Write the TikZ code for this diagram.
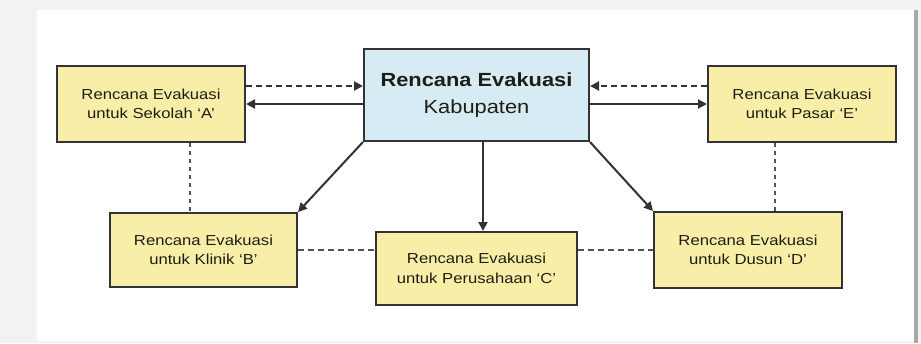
\documentclass[tikz,border=0pt]{standalone}
\usepackage{fontspec}
\setmainfont{Liberation Sans}[FakeStretch=1.15]
\usetikzlibrary{arrows.meta,calc}
\definecolor{bgout}{HTML}{F2F2F2}
\definecolor{shadowc}{HTML}{A8A8A8}
\definecolor{yfill}{HTML}{F8EEA8}
\definecolor{bfill}{HTML}{D7EBF4}
\definecolor{edge}{HTML}{333333}
\definecolor{txt}{HTML}{1E1E14}
\tikzset{
  planbox/.style={draw=edge, line width=2pt, fill=yfill, align=center, text=txt,
    minimum width=188pt, minimum height=76pt, inner sep=0pt,
    font=\fontsize{14.5}{19.5}\selectfont},
  mainbox/.style={draw=edge, line width=2pt, fill=bfill, align=center, text=txt,
    minimum width=225pt, minimum height=92pt, inner sep=0pt,
    font=\fontsize{19}{27}\selectfont},
  conn/.style={draw=edge, line width=2pt, -{Triangle[length=9pt,width=9pt]}},
  dconn/.style={conn, dash pattern=on 6pt off 4pt},
  dotline/.style={draw=edge!85, line width=2pt, dash pattern=on 4pt off 4pt},
  dashline/.style={draw=edge!85, line width=2pt, dash pattern=on 6pt off 4pt}
}
\begin{document}
\begin{tikzpicture}[x=1pt,y=-1pt]
\useasboundingbox (0,0) rectangle (921,343);
\fill[bgout] (0,0) rectangle (921,343);
\fill[white] (37,10) rectangle (914,341);
\fill[shadowc] (914,10) rectangle (918,343);

\node[mainbox] (K) at (476.5,95) {\textbf{Rencana Evakuasi}\\Kabupaten};
\node[planbox] (A) at (151,104) {Rencana Evakuasi\\untuk Sekolah `A'};
\node[planbox] (E) at (802,104) {Rencana Evakuasi\\untuk Pasar `E'};
\node[planbox, minimum width=187pt, minimum height=74pt] (B) at (203.5,250) {Rencana Evakuasi\\untuk Klinik `B'};
\node[planbox, minimum width=201pt, minimum height=73pt] (C) at (476.5,268.5) {Rencana Evakuasi\\untuk Perusahaan `C'};
\node[planbox] (D) at (748,250) {Rencana Evakuasi\\untuk Dusun `D'};

% A <-> K
\coordinate (a1) at ([yshift=18pt]A.east);
\draw[dconn] (a1) -- (a1 -| K.west);
\draw[conn] (K.west |- A.east) -- (A.east);
% E <-> K
\coordinate (e1) at ([yshift=18pt]E.west);
\draw[dconn] (e1) -- (e1 -| K.east);
\draw[conn] (K.east |- E.west) -- (E.west);
% K -> B, C, D
\draw[conn] (K.south west) -- (B.north east);
\coordinate (k1) at ([xshift=6.5pt]K.south);
\draw[conn] (k1) -- (k1 |- C.north);
\draw[conn] (K.south east) -- (D.north west);
% dotted verticals
\coordinate (a2) at ([xshift=39pt]A.south);
\draw[dotline] (a2) -- (a2 |- B.north);
\coordinate (e2) at ([xshift=-27pt]E.south);
\draw[dotline] (e2) -- (e2 |- D.north);
% dashed horizontals
\draw[dashline] (B.east) -- (B.east -| C.west);
\draw[dashline] (C.east |- D.west) -- (D.west);
\end{tikzpicture}
\end{document}
